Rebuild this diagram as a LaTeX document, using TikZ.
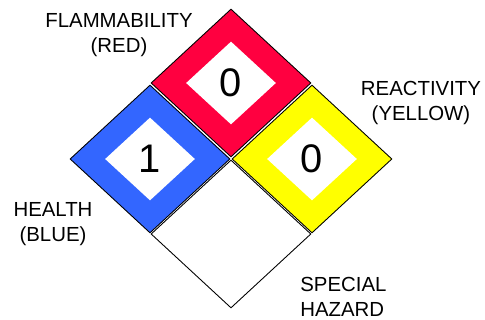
\documentclass[tikz,border=0pt]{standalone}
\usepackage{fontspec}
\setmainfont{Liberation Sans}
\usepackage{tikz}
\usetikzlibrary{shapes.geometric}
\definecolor{fireRed}{HTML}{FF0040}
\definecolor{healthBlue}{HTML}{3366FF}
\definecolor{reactYellow}{HTML}{FFFF00}
\tikzset{
  hazdiamond/.style={diamond, draw=black, line width=0.5pt, fill=#1, minimum width=3.2cm, minimum height=2.96cm, inner sep=0pt},
  ratebox/.style={diamond, fill=white, minimum width=1.8cm, minimum height=1.66cm, inner sep=0pt, font=\fontsize{22.7}{24}\selectfont},
  hazlabel/.style={align=center, inner sep=0pt, font=\fontsize{11.6}{14.2}\selectfont},
}
\begin{document}
\begin{tikzpicture}[x=0.02cm,y=-0.02cm]
  \useasboundingbox (0,0) rectangle (485,320);
  % the four quadrants
  \node[hazdiamond=fireRed] (fire) at (231,83) {};
  \node[hazdiamond=healthBlue] (health) at (150,159) {};
  \node[hazdiamond=reactYellow] (react) at (312,159) {};
  \node[hazdiamond=white] (special) at (231,234) {};
  % ratings
  \node[ratebox] (firerate) at (fire.center) {0};
  \node[ratebox] (healthrate) at (health.center) {1};
  \node[ratebox] (reactrate) at (react.center) {0};
  % labels
  \node[hazlabel] (firelbl) at (119,35) {FLAMMABILITY\\(RED)};
  \node[hazlabel] (healthlbl) at (53,224) {HEALTH\\(BLUE)};
  \node[hazlabel] (reactlbl) at (421,103) {REACTIVITY\\(YELLOW)};
  \node[hazlabel, align=left, anchor=west] (speclbl) at (300,297) {SPECIAL\\HAZARD};
\end{tikzpicture}
\end{document}
